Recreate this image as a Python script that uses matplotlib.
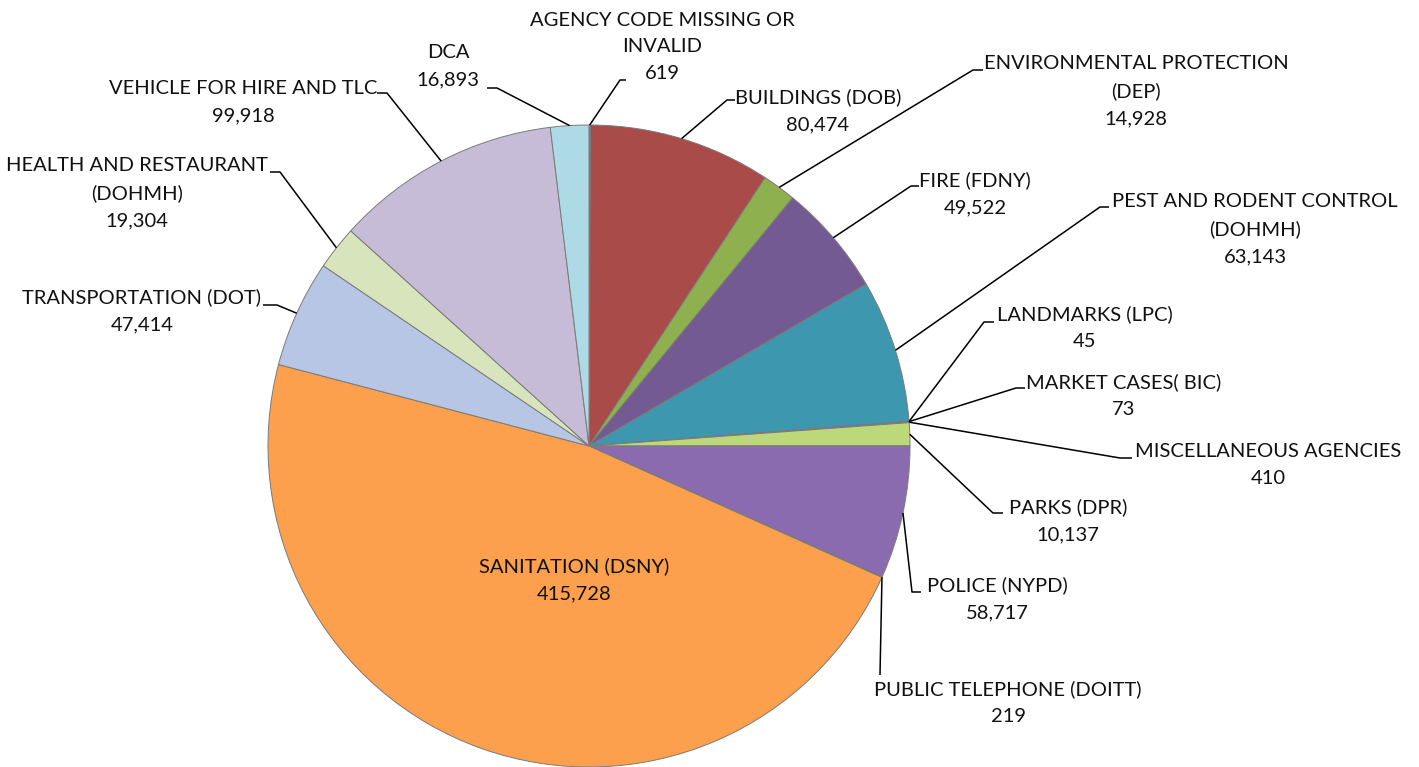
import matplotlib.pyplot as plt
import numpy as np

plt.rcParams['font.family'] = ['Lato', 'DejaVu Sans']

# data, clockwise from 12 o'clock
agencies = ['AGENCY CODE MISSING OR\nINVALID', 'BUILDINGS (DOB)',
            'ENVIRONMENTAL PROTECTION\n(DEP)', 'FIRE (FDNY)',
            'PEST AND RODENT CONTROL\n(DOHMH)', 'LANDMARKS (LPC)',
            'MARKET CASES( BIC)', 'MISCELLANEOUS AGENCIES', 'PARKS (DPR)',
            'POLICE (NYPD)', 'PUBLIC TELEPHONE (DOITT)', 'SANITATION (DSNY)',
            'TRANSPORTATION (DOT)', 'HEALTH AND RESTAURANT\n(DOHMH)',
            'VEHICLE FOR HIRE AND TLC', 'DCA']
counts = [619, 80474, 14928, 49522, 63143, 45, 73, 410, 10137, 58717, 219,
          415728, 47414, 19304, 99918, 16893]
colors = ['#4F81BD', '#A94B48', '#8EB04F', '#745A93', '#3D98AF', '#F79646',
          '#3C6BA5', '#A2403D', '#BDD77B', '#8B6BAF', '#4BACC6', '#FDA04E',
          '#B7C6E5', '#D8E4BC', '#C6BCD8', '#AEDAE6']

# label layout in pixel coords: text block centre, leader elbow, horizontal tail
text_pos = [(662, 47), (818, 111), (1136, 91), (975, 194), (1255, 229),
            (1085, 328), (1124, 396), (1268, 465), (1068, 521), (997, 599),
            (1008, 703), (574, 580), (142, 311), (137, 193), (243, 102),
            (448, 66)]
elbows = [(620, 80, 6), (727, 100, 8), (973, 70, 10), (911, 186, 8),
          (1100, 207, 9), (984, 322, 10), (1016, 388, 9), (1120, 458, 12),
          (993, 513, 10), (912, 592, 9), (880, 675, 0), None,
          (277, 305, -14), (280, 172, -10), (387, 93, -10), (497, 88, -10)]

W, H = 1419, 767
fig = plt.figure(figsize=(W / 100, H / 100), dpi=100)
ax = fig.add_axes([0, 0, 1, 1])

cx, cy, r = 589, H - 446, 321
wedges, _ = ax.pie(counts, colors=colors, startangle=90, counterclock=False,
                   center=(cx, cy), radius=r, frame=True,
                   wedgeprops=dict(edgecolor='#7a7a7a', linewidth=0.7))

ax.set_xlim(0, W)
ax.set_ylim(0, H)
ax.set_aspect('equal')
ax.axis('off')

for w, name, v, (tx, ty), el in zip(wedges, agencies, counts, text_pos, elbows):
    ax.text(tx, H - ty, f'{name}\n{v:,}', ha='center', va='center',
            multialignment='center', fontsize=14.5, linespacing=1.7,
            color='#111111')
    if el is None:
        continue
    mid = np.deg2rad((w.theta1 + w.theta2) / 2)
    x0 = cx + r * np.cos(mid)
    y0 = cy + r * np.sin(mid)
    ex, ey, hl = el
    ax.plot([x0, ex, ex + hl], [y0, H - ey, H - ey], color='black', lw=1.1,
            solid_capstyle='butt')

fig.savefig('out.png', dpi=100)
